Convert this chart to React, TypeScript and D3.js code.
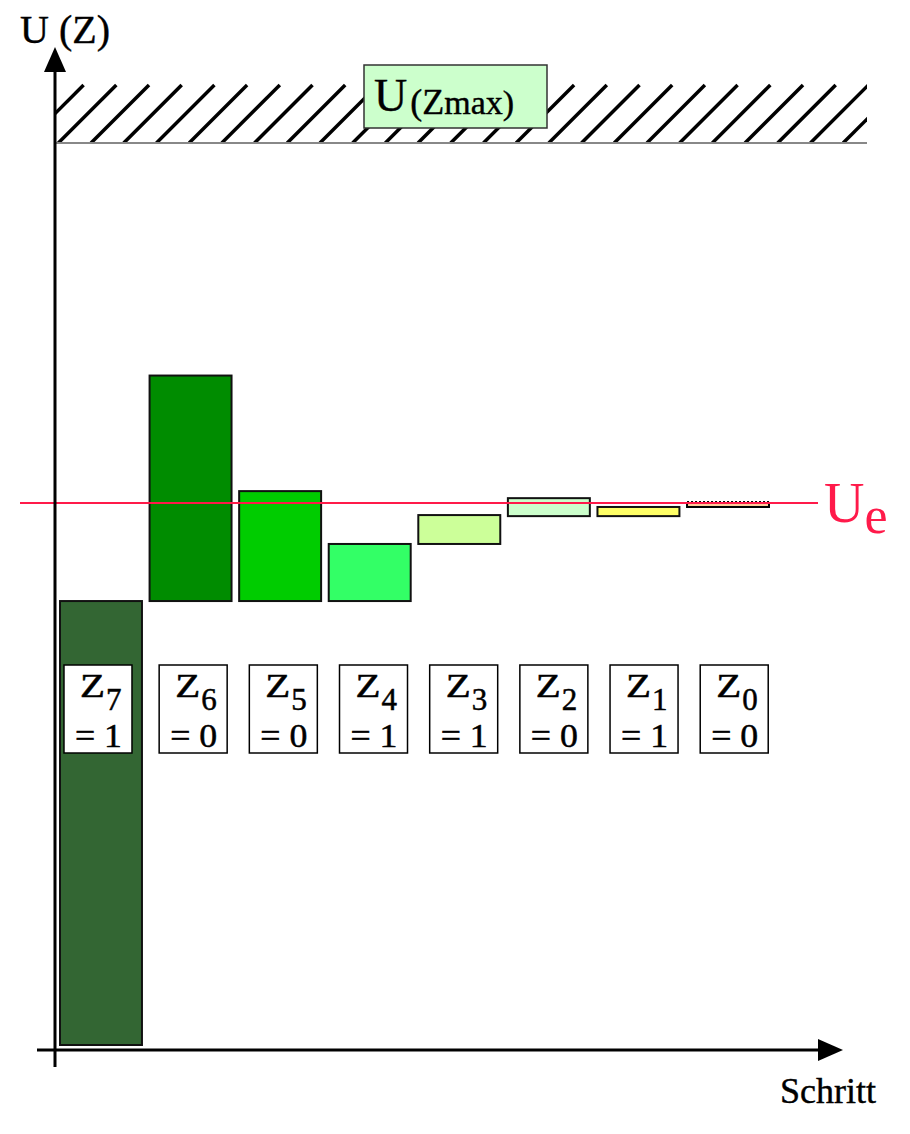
import React from "react";
import * as d3 from "d3";

// successive approximation: one bar per step, bit decided against Ue
const steps = ["Z7", "Z6", "Z5", "Z4", "Z3", "Z2", "Z1", "Z0"];
const bitIndex = ["7", "6", "5", "4", "3", "2", "1", "0"];
const bits = [1, 0, 0, 1, 1, 0, 1, 0];
const barLow = [0, 126, 126, 126, 142.2, 150.1, 150.1, 152.7];
const barHigh = [126, 190, 157.2, 142.2, 150.4, 155.2, 152.7, 154.1];
const barColors = ["#336633", "#008c00", "#00cc00", "#33ff66", "#ccff99", "#ccffcc", "#ffff66", "#ffcc99"];
const ue = 153.8;
const uMax = 256;

const W = 910;
const H = 1134;
const serif = "Liberation Serif, DejaVu Serif, Times New Roman, serif";

const App = () => {
  const yScale = d3.scaleLinear().domain([0, uMax]).range([1045, 143]);
  const xScale = d3
    .scaleBand()
    .domain(steps)
    .range([60, 769])
    .paddingInner(0.085)
    .paddingOuter(0);

  const axisX = 55;
  const axisY = 1050;
  const hatchTop = 85;
  const hatchBottom = yScale(uMax);
  const hatchRight = 867;
  const hatchH = hatchBottom - hatchTop;

  // hatch lines at 45 degrees, start points along the bottom edge
  const hatchStarts = d3.range(58.3 - 32.7 * 2, hatchRight, 32.7);

  const boxW = 68;
  const boxTop = 665;
  const boxH = 88;
  const txt = { fontFamily: serif };

  return (
    <svg
      width={W}
      height={H}
      style={{ position: "absolute", left: 0, top: 0, background: "#fff", fontFamily: serif }}
    >
      <defs>
        <clipPath id="hatch-clip">
          <rect x={axisX} y={hatchTop - 2} width={hatchRight - axisX} height={hatchH + 2} />
        </clipPath>
      </defs>

      {/* hatched region above U(Zmax) */}
      <g clipPath="url(#hatch-clip)">
        {hatchStarts.map((x0, i) => (
          <line
            key={"h" + i}
            x1={x0}
            y1={hatchBottom}
            x2={x0 + hatchH}
            y2={hatchTop}
            stroke="#000"
            strokeWidth={3.5}
          />
        ))}
      </g>
      <line x1={axisX} x2={hatchRight} y1={hatchBottom} y2={hatchBottom} stroke="#888" strokeWidth={2} />

      {/* U(Zmax) label */}
      <rect x={364} y={65} width={183} height={63} fill="#ccffcc" stroke="#333" strokeWidth={1.5} />
      <text x={374} y={111} fontSize={46} fill="#000" stroke="#000" strokeWidth={0.4} style={txt}>
        U
        <tspan fontSize={36} dx={3} dy={3}>(Z</tspan>
        <tspan fontSize={34}>max)</tspan>
      </text>

      {/* bars */}
      {steps.map((s, i) => {
        const x = xScale(s)!;
        const y0 = yScale(barLow[i]);
        const y1 = yScale(barHigh[i]);
        const bw = xScale.bandwidth();
        if (i === steps.length - 1) {
          return (
            <g key={s}>
              <rect x={x} y={y1} width={bw} height={y0 - y1} fill={barColors[i]} />
              <path
                d={`M${x},${y1} V${y0} H${x + bw} V${y1}`}
                fill="none"
                stroke="#000"
                strokeWidth={2}
              />
              <line x1={x} x2={x + bw} y1={y1} y2={y1} stroke="#000" strokeWidth={2} strokeDasharray="2,2" />
            </g>
          );
        }
        return (
          <rect
            key={s}
            x={x}
            y={y1}
            width={bw}
            height={y0 - y1}
            fill={barColors[i]}
            stroke="#111"
            strokeWidth={2}
          />
        );
      })}

      {/* Ue reference */}
      <line x1={20} x2={818} y1={yScale(ue)} y2={yScale(ue)} stroke="#ff1a4a" strokeWidth={2} />
      <text x={824} y={522} fontSize={56} fill="#ff1a4a" style={txt}>
        U
        <tspan fontSize={52} dy={11}>e</tspan>
      </text>

      {/* bit boxes */}
      {steps.map((s, i) => {
        const cx = xScale(s)! + xScale.bandwidth() / 2 + (i === 0 ? -3 : 2 + i * 0.6);
        return (
          <g key={"b" + s} fill="#000" stroke="#000" strokeWidth={0.5} style={txt}>
            <rect
              x={cx - boxW / 2}
              y={boxTop}
              width={boxW}
              height={boxH}
              fill="#fff"
              stroke="#000"
              strokeWidth={1.5}
            />
            <text x={cx - 18} y={697} fontSize={34} textLength={25} lengthAdjust="spacingAndGlyphs">
              Z
            </text>
            <text x={cx + 8} y={710} fontSize={31}>
              {bitIndex[i]}
            </text>
            <text
              x={cx - 23}
              y={747}
              fontSize={33}
              textLength={47}
              lengthAdjust="spacingAndGlyphs"
            >
              {"= " + bits[i]}
            </text>
          </g>
        );
      })}

      {/* axes */}
      <line x1={axisX} x2={axisX} y1={1067} y2={70} stroke="#000" strokeWidth={3} />
      <path d={`M${axisX},47 L${axisX - 11},72 L${axisX + 11},72 Z`} fill="#000" />
      <line x1={37} x2={822} y1={axisY} y2={axisY} stroke="#000" strokeWidth={3} />
      <path d={`M843,${axisY} L818,${axisY - 11} L818,${axisY + 11} Z`} fill="#000" />

      <text x={20} y={43} fontSize={40} fill="#000" stroke="#000" strokeWidth={0.4} style={txt}>U (Z)</text>
      <text x={780} y={1103} fontSize={36} fill="#000" stroke="#000" strokeWidth={0.4} style={txt}>Schritt</text>
    </svg>
  );
};

export default App;
